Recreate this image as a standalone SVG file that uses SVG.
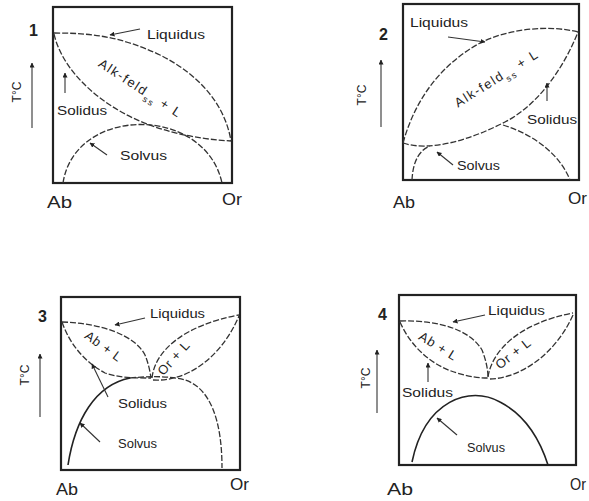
<svg xmlns="http://www.w3.org/2000/svg" width="589" height="501" viewBox="0 0 589 501">
<defs>
<marker id="ah" viewBox="0 0 10 10" refX="9" refY="5" markerWidth="5" markerHeight="5" markerUnits="userSpaceOnUse" orient="auto">
<path d="M0,0 L10,5 L0,10 Z" fill="#222"/>
</marker>
<style>
.box{fill:none;stroke:#222;stroke-width:2.2}
.cv{fill:none;stroke:#333;stroke-width:1.3;stroke-dasharray:6 2}
.sd{fill:none;stroke:#222;stroke-width:1.6}
.ld{fill:none;stroke:#333;stroke-width:1.1;marker-end:url(#ah)}
.lb{font-family:"Liberation Sans",Arial,sans-serif;font-size:12px;fill:#222}
.ax{font-family:"Liberation Sans",Arial,sans-serif;font-size:17px;fill:#222}
.num{font-family:"Liberation Sans",Arial,sans-serif;font-size:16px;font-weight:bold;fill:#222}
.tc{font-family:"Liberation Sans",Arial,sans-serif;font-size:12px;fill:#222}
.ph{font-family:"Liberation Sans",Arial,sans-serif;font-size:13px;letter-spacing:0.8px;fill:#222}
</style>
</defs>
<rect width="589" height="501" fill="#fff"/>

<g id="panel1">
<rect class="box" x="53" y="7" width="179" height="176"/>
<text class="num" x="29" y="36">1</text>
<text class="tc" transform="translate(21,92) rotate(-90)" text-anchor="middle">T°C</text>
<line class="ld" x1="32" y1="128" x2="32" y2="63"/>
<text class="ax" x="47" y="208" textLength="25" lengthAdjust="spacingAndGlyphs">Ab</text>
<text class="ax" x="222" y="205" textLength="20" lengthAdjust="spacingAndGlyphs">Or</text>
<text class="lb" x="147" y="39" textLength="58" lengthAdjust="spacingAndGlyphs">Liquidus</text>
<text class="lb" x="57" y="115" textLength="50" lengthAdjust="spacingAndGlyphs">Solidus</text>
<text class="lb" x="120" y="160" textLength="47" lengthAdjust="spacingAndGlyphs">Solvus</text>
<text class="ph" transform="translate(138,92) rotate(33)" text-anchor="middle" style="letter-spacing:1.6px">Alk-feld<tspan baseline-shift="sub" style="font-size:9px">ss</tspan> + L</text>
</g>

<g id="panel2">
<rect class="box" x="403" y="4" width="176" height="176"/>
<text class="num" x="379" y="40">2</text>
<text class="tc" transform="translate(366,95) rotate(-90)" text-anchor="middle">T°C</text>
<line class="ld" x1="381" y1="127" x2="381" y2="60"/>
<text class="ax" x="393" y="208" textLength="22" lengthAdjust="spacingAndGlyphs">Ab</text>
<text class="ax" x="568" y="204" textLength="19" lengthAdjust="spacingAndGlyphs">Or</text>
<text class="lb" x="410" y="27" textLength="58" lengthAdjust="spacingAndGlyphs">Liquidus</text>
<text class="lb" x="527" y="124" textLength="50" lengthAdjust="spacingAndGlyphs">Solidus</text>
<text class="lb" x="457" y="170" textLength="43" lengthAdjust="spacingAndGlyphs">Solvus</text>
<text class="ph" transform="translate(499,82) rotate(-32)" text-anchor="middle" style="letter-spacing:1.6px">Alk-feld<tspan baseline-shift="sub" style="font-size:9px">ss</tspan> + L</text>
</g>

<g id="panel3">
<rect class="box" x="61" y="297" width="179" height="173"/>
<text class="num" x="38" y="322">3</text>
<text class="tc" transform="translate(29,375) rotate(-90)" text-anchor="middle">T°C</text>
<line class="ld" x1="40" y1="417" x2="40" y2="354"/>
<text class="ax" x="56" y="495" textLength="22" lengthAdjust="spacingAndGlyphs">Ab</text>
<text class="ax" x="230" y="490" textLength="19" lengthAdjust="spacingAndGlyphs">Or</text>
<text class="lb" x="150" y="318" textLength="55" lengthAdjust="spacingAndGlyphs">Liquidus</text>
<text class="lb" x="118" y="408" textLength="49" lengthAdjust="spacingAndGlyphs">Solidus</text>
<text class="lb" x="118" y="448" textLength="39" lengthAdjust="spacingAndGlyphs">Solvus</text>
<text class="ph" transform="translate(101,350) rotate(36)" text-anchor="middle">Ab + L</text>
<text class="ph" transform="translate(177,361) rotate(-48)" text-anchor="middle">Or + L</text>
</g>

<g id="panel4">
<rect class="box" x="399" y="295" width="177" height="170"/>
<text class="num" x="378" y="320">4</text>
<text class="tc" transform="translate(370,378) rotate(-90)" text-anchor="middle">T°C</text>
<line class="ld" x1="377" y1="413" x2="377" y2="350"/>
<text class="ax" x="387" y="495" textLength="26" lengthAdjust="spacingAndGlyphs">Ab</text>
<text class="ax" x="570" y="490" textLength="16" lengthAdjust="spacingAndGlyphs">Or</text>
<text class="lb" x="488" y="315" textLength="57" lengthAdjust="spacingAndGlyphs">Liquidus</text>
<text class="lb" x="402" y="397" textLength="51" lengthAdjust="spacingAndGlyphs">Solidus</text>
<text class="lb" x="467" y="452" textLength="38" lengthAdjust="spacingAndGlyphs">Solvus</text>
<text class="ph" transform="translate(436,350) rotate(32)" text-anchor="middle">Ab + L</text>
<text class="ph" transform="translate(516,357) rotate(-38)" text-anchor="middle">Or + L</text>
</g>

<g id="connectors">
<path class="cv" d="M54,33 C90,33 120,36 160,55 C200,75 225,105 231,141"/>
<path class="cv" d="M54,34 C60,60 80,85 110,105 C140,125 180,138 231,141"/>
<path class="cv" d="M63,183 C75,105 205,105 222,183"/>
<line class="ld" x1="140" y1="29" x2="110" y2="35"/>
<line class="ld" x1="65" y1="93" x2="65" y2="73"/>
<line class="ld" x1="107" y1="155" x2="90" y2="143"/>
<path class="cv" d="M403,143 C415,100 440,65 480,43 C510,28 550,25 578,32"/>
<path class="cv" d="M403,143 C430,152 470,140 505,122 C540,104 565,65 578,32"/>
<path class="cv" d="M412,180 C413,160 420,150 430,146"/>
<path class="cv" d="M503,125 C535,135 560,155 570,180"/>
<line class="ld" x1="448" y1="37" x2="485" y2="42"/>
<line class="ld" x1="547" y1="101" x2="547" y2="83"/>
<line class="ld" x1="453" y1="165" x2="437" y2="152"/>
<path class="cv" d="M62,322 C100,323 135,335 145,355 C149,365 150,372 151,378"/>
<path class="cv" d="M62,322 C70,345 85,362 105,373 C120,378 135,378 151,378"/>
<path class="cv" d="M152,378 C155,350 185,325 239,315"/>
<path class="cv" d="M153,380 C185,382 220,360 239,316"/>
<path class="sd" d="M68,465 C75,420 95,385 130,378"/>
<path class="cv" d="M130,378 C150,376 170,376 185,380 C210,388 222,420 222,468"/>
<line class="ld" x1="145" y1="318" x2="115" y2="325"/>
<line class="ld" x1="108" y1="397" x2="92" y2="364"/>
<line class="ld" x1="100" y1="442" x2="80" y2="423"/>
<path class="cv" d="M400,321 C440,320 470,330 482,350 C486,360 488,370 488,377"/>
<path class="cv" d="M400,322 C410,345 430,365 457,373 C470,377 480,378 488,378"/>
<path class="cv" d="M488,377 C492,350 520,323 573,313"/>
<path class="cv" d="M490,379 C520,378 555,355 573,315"/>
<path class="sd" d="M412,462 C425,400 470,385 500,402 C525,415 540,440 548,465"/>
<line class="ld" x1="485" y1="315" x2="453" y2="322"/>
<line class="ld" x1="428" y1="382" x2="428" y2="363"/>
<line class="ld" x1="457" y1="435" x2="437" y2="418"/>
</g>
</svg>
